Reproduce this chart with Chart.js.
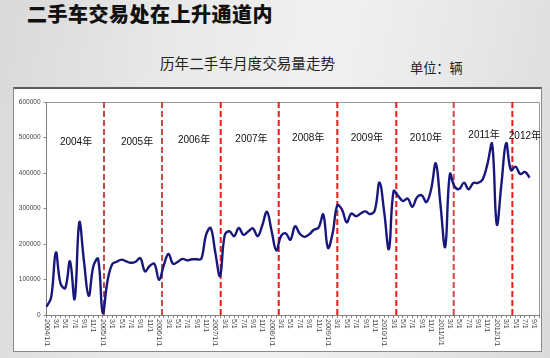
<!DOCTYPE html>
<html><head><meta charset="utf-8">
<script src="https://cdn.jsdelivr.net/npm/chart.js@4.4.0/dist/chart.umd.min.js"></script>
<style>
html,body{margin:0;padding:0;width:550px;height:358px;overflow:hidden;}
body{position:relative;background:linear-gradient(100deg,#d9d9d9 0%,#e9e9e9 30%,#f1f1f1 55%,#e6e6e6 80%,#dadada 100%);font-family:"Noto Sans CJK SC",sans-serif;}
#panel{position:absolute;left:13px;top:87px;width:529px;height:265px;background:#fff;border:1px solid #8a8a8a;border-top:2px solid #5e5e5e;box-sizing:border-box;}
#title{position:absolute;left:27px;top:4px;font-size:20px;line-height:1;font-weight:900;color:#111;letter-spacing:0.5px;white-space:nowrap;}
#sub{position:absolute;left:160px;top:56px;font-size:14.6px;line-height:1;color:#222;white-space:nowrap;}
#unit{position:absolute;left:410px;top:61px;font-size:13.2px;line-height:1;color:#222;white-space:nowrap;}
#wrap{position:absolute;left:0;top:0;width:550px;height:358px;}
</style></head>
<body>
<div id="panel"></div>
<div id="title">二手车交易处在上升通道内</div>
<div id="sub">历年二手车月度交易量走势</div>
<div id="unit">单位：辆</div>
<div id="wrap"><canvas id="c" width="550" height="358"></canvas></div>
<script>
// ---- data (monthly used-car transactions, vehicles) ----
const years = [2004, 2005, 2006, 2007, 2008, 2009, 2010, 2011, 2012];
const lastMonth2012 = 10; // axis runs to 2012/10
const sales2004 = [23000, 50000, 176000, 88000, 76000, 151000, 45000, 261000, 150000, 54000, 138000, 158000];
const sales2005 = [5000, 95000, 143000, 150000, 156000, 151000, 147000, 150000, 160000, 123000, 138000, 144000];
const sales2006 = [99000, 140000, 172000, 144000, 150000, 158000, 154000, 157000, 157000, 158000, 225000, 245000];
const sales2007 = [175000, 110000, 225000, 236000, 222000, 245000, 226000, 235000, 244000, 222000, 252000, 291000];
const sales2008 = [236000, 182000, 222000, 230000, 212000, 250000, 229000, 220000, 227000, 240000, 246000, 283000];
const sales2009 = [189000, 230000, 309000, 297000, 261000, 286000, 278000, 286000, 292000, 284000, 295000, 373000];
const sales2010 = [290000, 186000, 349000, 335000, 321000, 328000, 305000, 332000, 337000, 318000, 354000, 427000];
const sales2011 = [310000, 192000, 397000, 362000, 355000, 373000, 354000, 372000, 372000, 382000, 425000, 482000];
const sales2012 = [255000, 370000, 484000, 408000, 418000, 397000, 403000, 387000];
const yTicks = [0, 100000, 200000, 300000, 400000, 500000, 600000];
const yearNames = ["2004年", "2005年", "2006年", "2007年", "2008年", "2009年", "2010年", "2011年", "2012年"];
// annotation placement in data units (month index, value)
const yearLabelAt = [[6.3, 487000], [19.3, 487000], [31.45, 493000], [43.7, 496000], [55.8, 499000], [68.3, 499000], [80.9, 499000], [93.3, 505000], [102.0, 504000]];
const dividerAt = [12.26, 24.63, 37.14, 49.51, 62.0, 74.58, 86.82, 99.32];
const dividerColor = ["#c84a4a", "#c84a4a", "#f01a1a", "#f01a1a", "#f01a1a", "#f01a1a", "#c84a4a", "#f01a1a"];

// ---- build category labels ----
const labels = [];
years.forEach(y => {
  const n = y === 2012 ? lastMonth2012 : 12;
  for (let m = 1; m <= n; m++) labels.push(y + "/" + m + "/1");
});
const tickText = labels.map(l => {
  const p = l.split("/");
  return p[1] === "1" ? l : p[1] + "/1";
});
const series = [].concat(sales2004, sales2005, sales2006, sales2007, sales2008, sales2009, sales2010, sales2011, sales2012);

const decor = {
  id: 'decor',
  beforeDatasetsDraw(chart) {
    const {ctx, chartArea: a, scales: {x, y}} = chart;
    ctx.save();
    ctx.strokeStyle = '#9a9a9a';
    ctx.lineWidth = 1;
    ctx.beginPath();
    ctx.moveTo(a.left, a.top + 0.5);
    ctx.lineTo(a.right + 0.5, a.top + 0.5);
    ctx.lineTo(a.right + 0.5, a.bottom);
    ctx.stroke();
    ctx.lineWidth = 2;
    ctx.setLineDash([6, 3]);
    dividerAt.forEach((v, k) => {
      const px = x.getPixelForValue(v);
      ctx.strokeStyle = dividerColor[k];
      ctx.beginPath();
      ctx.moveTo(px, a.top);
      ctx.lineTo(px, a.bottom);
      ctx.stroke();
    });
    ctx.restore();
  },
  afterDraw(chart) {
    const {ctx, chartArea: a, scales: {x, y}} = chart;
    ctx.save();
    // x tick labels, rotated to read top-to-bottom
    ctx.fillStyle = '#444';
    ctx.font = '7px "Liberation Sans", Arial, sans-serif';
    ctx.textAlign = 'left';
    ctx.textBaseline = 'middle';
    labels.forEach((l, i) => {
      if (i % 2 !== 0) return;
      const px = x.getPixelForValue(i);
      ctx.save();
      ctx.translate(px, a.bottom + 4);
      ctx.rotate(Math.PI / 2);
      ctx.fillText(tickText[i], 0, 0);
      ctx.restore();
    });
    // year annotations
    ctx.fillStyle = '#111';
    ctx.font = '10px "Liberation Sans", Arial, "Noto Sans CJK SC", sans-serif';
    ctx.textAlign = 'center';
    ctx.textBaseline = 'middle';
    yearNames.forEach((t, k) => {
      ctx.fillText(t, x.getPixelForValue(yearLabelAt[k][0]), y.getPixelForValue(yearLabelAt[k][1]));
    });
    ctx.restore();
  }
};

new Chart(document.getElementById('c'), {
  type: 'line',
  data: {
    labels: labels,
    datasets: [{
      data: series,
      borderColor: '#17177c',
      borderWidth: 2.4,
      pointRadius: 0,
      tension: 0.4,
      fill: false
    }]
  },
  options: {
    responsive: false,
    animation: false,
    layout: {padding: {left: 12.5, top: 102, right: 11, bottom: 0}},
    plugins: {legend: {display: false}, tooltip: {enabled: false}},
    scales: {
      x: {
        type: 'category',
        offset: false,
        ticks: {display: false, autoSkip: false},
        grid: {drawOnChartArea: false, tickLength: 3, color: '#888'},
        border: {color: '#808080', width: 1},
        afterFit(s) { s.height = 43; }
      },
      y: {
        min: 0, max: 600000,
        afterBuildTicks(s) { s.ticks = yTicks.map(v => ({value: v})); },
        ticks: {font: {size: 6.5, family: '"Liberation Sans", Arial, sans-serif'}, color: '#444', padding: 3,
                callback: v => String(v)},
        grid: {drawOnChartArea: false, tickLength: 3, color: '#888'},
        border: {color: '#808080', width: 1},
        afterFit(s) { s.width = 34; }
      }
    }
  },
  plugins: [decor]
});
</script>
</body></html>
